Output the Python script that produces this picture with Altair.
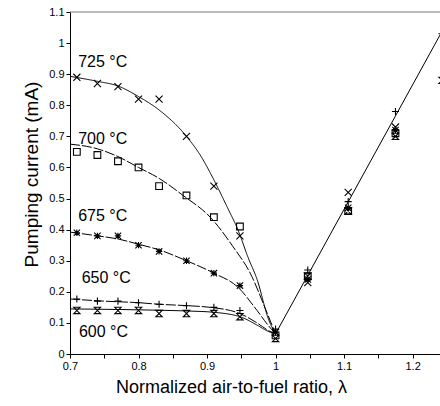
import altair as alt
import pandas as pd

# ---------------- data ----------------
series = ["725", "700", "675", "650", "600"]

x_pts = [0.71, 0.74, 0.77, 0.80, 0.83, 0.87, 0.91, 0.948, 1.0, 1.047, 1.106, 1.175]
y_725 = [0.89, 0.87, 0.86, 0.82, 0.82, 0.70, 0.54, 0.38, 0.07, 0.23, 0.52, 0.73]
y_700 = [0.65, 0.64, 0.62, 0.60, 0.54, 0.51, 0.44, 0.41, 0.06, 0.25, 0.46, 0.71]
y_675 = [0.39, 0.38, 0.38, 0.35, 0.33, 0.30, 0.26, 0.22, 0.07, 0.24, 0.47, 0.72]
y_650 = [0.177, 0.17, 0.17, 0.165, 0.16, 0.155, 0.15, 0.14, 0.08, 0.27, 0.49, 0.78]
y_600 = [0.14, 0.14, 0.14, 0.14, 0.13, 0.13, 0.13, 0.12, 0.05, 0.25, 0.46, 0.70]

# partially visible points at the right edge
edge_series = ["650", "600"]
edge_x = [1.243, 1.243]
edge_y = [1.03, 0.88]

# fitted curves (lean side)
cx_725 = [0.70, 0.74, 0.77, 0.80, 0.83, 0.87, 0.89, 0.91, 0.93, 0.945, 0.96, 0.973, 0.99, 1.0]
cy_725 = [0.893, 0.877, 0.862, 0.828, 0.785, 0.70, 0.64, 0.56, 0.47, 0.40, 0.31, 0.24, 0.11, 0.065]
cx_700 = [0.70, 0.74, 0.77, 0.80, 0.83, 0.865, 0.906, 0.938, 0.963, 0.988, 1.0]
cy_700 = [0.675, 0.66, 0.635, 0.60, 0.565, 0.51, 0.437, 0.345, 0.26, 0.13, 0.065]
cx_675 = [0.70, 0.74, 0.77, 0.80, 0.83, 0.87, 0.91, 0.945, 0.973, 0.99, 1.0]
cy_675 = [0.392, 0.38, 0.37, 0.353, 0.335, 0.30, 0.26, 0.215, 0.14, 0.09, 0.065]
cx_650 = [0.70, 0.75, 0.80, 0.83, 0.875, 0.905, 0.948, 0.973, 0.99, 1.0]
cy_650 = [0.177, 0.17, 0.165, 0.16, 0.155, 0.15, 0.13, 0.10, 0.075, 0.065]
cx_600 = [0.70, 0.80, 0.875, 0.905, 0.948, 0.973, 0.99, 1.0]
cy_600 = [0.145, 0.142, 0.138, 0.135, 0.12, 0.093, 0.072, 0.065]

# rich side line
rx = [1.0, 1.25]
ry = [0.065, 1.066]

labels = ["725 °C", "700 °C", "675 °C", "650 °C", "600 °C"]
label_x = [0.712, 0.712, 0.712, 0.717, 0.713]
label_y = [0.923, 0.675, 0.428, 0.228, 0.055]

x_ticks = [0.7, 0.75, 0.8, 0.85, 0.9, 0.95, 1.0, 1.05, 1.1, 1.15, 1.2]
y_ticks = [0, 0.1, 0.2, 0.3, 0.4, 0.5, 0.6, 0.7, 0.8, 0.9, 1.0, 1.1]

# ---------------- tables ----------------
pt_y = {"725": y_725, "700": y_700, "675": y_675, "650": y_650, "600": y_600}
cur = {"725": (cx_725, cy_725), "700": (cx_700, cy_700), "675": (cx_675, cy_675),
       "650": (cx_650, cy_650), "600": (cx_600, cy_600)}

shapes = {
    "725": "M-1,-1L1,1M-1,1L1,-1",
    "700": "M-1,-1L1,-1L1,1L-1,1Z",
    "675": "M-1,-1L1,1M-1,1L1,-1M0,-1L0,1M-1,0L1,0",
    "650": "M-1,0L1,0M0,-1L0,1",
    "600": "M-1,-1L1,-1L-1,1L1,1Z",
}
sizes = {"725": 50, "700": 45, "675": 40, "650": 50, "600": 40}
dashes = {"725": [1, 0], "700": [10, 2], "675": [10, 2], "650": [10, 2], "600": [1, 0]}

FONT = "Liberation Sans"

X = alt.X("x:Q",
          scale=alt.Scale(domain=[0.7, 1.24], nice=False, zero=False),
          axis=alt.Axis(title="Normalized air-to-fuel ratio, λ", values=x_ticks,
                        labelExpr="abs(datum.value*10 - round(datum.value*10)) < 0.01 ? format(datum.value, '~g') : ''",
                        grid=False, tickSize=4, labelPadding=2, labelFontSize=11,
                        labelFont=FONT, labelColor="#000", domainColor="#000", tickColor="#000",
                        titleFont=FONT, titleFontSize=18, titleFontWeight="normal", titleColor="#000",
                        titleX=161, titleY=38, titleAlign="center", titleBaseline="alphabetic",
                        labelFlush=False, labelOverlap=False))
Y = alt.Y("y:Q",
          scale=alt.Scale(domain=[0, 1.1], nice=False),
          axis=alt.Axis(title="Pumping current (mA)", values=y_ticks, format="~g",
                        grid=False, tickSize=4, labelPadding=2, labelFontSize=11,
                        labelFont=FONT, labelColor="#000", domainColor="#000", tickColor="#000",
                        titleFont=FONT, titleFontSize=19, titleFontWeight="normal", titleColor="#000",
                        titleX=-33, titleY=162, titleAlign="center", titleBaseline="alphabetic",
                        labelFlush=False, labelOverlap=False))

layers = []

# top frame line
layers.append(alt.Chart(pd.DataFrame({"a": [0]})).mark_rule(color="#777", strokeWidth=1).encode(
    x=alt.value(0), x2=alt.value(370), y=alt.value(0)))

for s in series:
    cx, cy = cur[s]
    df = pd.DataFrame({"x": cx, "y": cy})
    layers.append(alt.Chart(df).mark_line(color="#000", strokeWidth=1, interpolate="monotone",
                                          strokeDash=dashes[s], clip=True).encode(x=X, y=Y))

layers.append(alt.Chart(pd.DataFrame({"x": rx, "y": ry})).mark_line(
    color="#000", strokeWidth=1, clip=True).encode(x=X, y=Y))

for s in series:
    xs = list(x_pts)
    ys = list(pt_y[s])
    for es, ex, ey in zip(edge_series, edge_x, edge_y):
        if es == s:
            xs.append(ex)
            ys.append(ey)
    df = pd.DataFrame({"x": xs, "y": ys})
    layers.append(alt.Chart(df).mark_point(shape=shapes[s], size=sizes[s], filled=False,
                                           color="#000", strokeWidth=1.1, opacity=1, clip=True)
                  .encode(x=X, y=Y))

tdf = pd.DataFrame({"x": label_x, "y": label_y, "t": labels})
layers.append(alt.Chart(tdf).mark_text(align="left", baseline="alphabetic", font=FONT,
                                       fontSize=16, color="#000").encode(x=X, y=Y, text="t:N"))

chart = alt.layer(*layers).properties(
    width=370, height=342,
    autosize=alt.AutoSizeParams(type="none"),
    padding={"left": 70, "top": 12, "right": 0, "bottom": 52},
    background="white",
).configure_view(stroke=None)

chart.save("out.html", embed_options={"renderer": "svg", "actions": False})
